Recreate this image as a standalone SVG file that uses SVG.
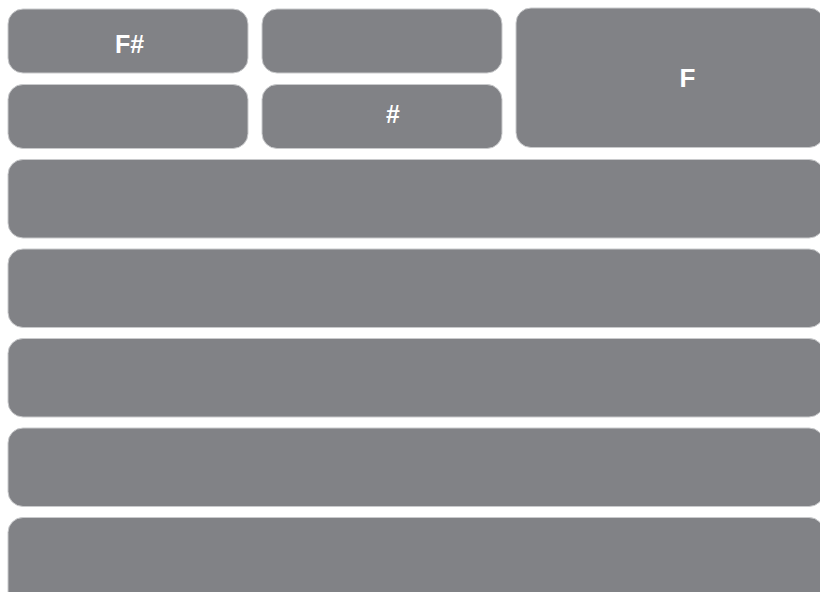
<svg xmlns="http://www.w3.org/2000/svg" width="820" height="592" viewBox="0 0 820 592">
<style>
.b{fill:#818286;stroke:#c9cacc;stroke-width:1}
.t{fill:#ffffff;font-family:"Liberation Sans",Arial,sans-serif;font-weight:bold;font-size:25px;text-anchor:middle;dominant-baseline:central}
</style>
<rect width="820" height="592" fill="#ffffff"/>
<g id="n1"><rect class="b" x="8" y="9" width="240" height="64" rx="15"/><text class="t" x="129.5" y="44">F#</text></g>
<g id="n2"><rect class="b" x="262" y="9" width="240" height="64" rx="15"/></g>
<g id="n3"><rect class="b" x="8" y="84.5" width="240" height="64" rx="15"/></g>
<g id="n4"><rect class="b" x="262" y="84.5" width="240" height="64" rx="15"/><text class="t" x="393" y="114">#</text></g>
<g id="n5"><rect class="b" x="516" y="8" width="308" height="139.5" rx="15"/><text class="t" x="687.5" y="78" style="font-size:26px">F</text></g>
<g id="r1"><rect class="b" x="8" y="159.5" width="816" height="78.5" rx="15"/></g>
<g id="r2"><rect class="b" x="8" y="249" width="816" height="78.5" rx="15"/></g>
<g id="r3"><rect class="b" x="8" y="338.5" width="816" height="78.5" rx="15"/></g>
<g id="r4"><rect class="b" x="8" y="428" width="816" height="78.5" rx="15"/></g>
<g id="r5"><rect class="b" x="8" y="517.5" width="816" height="90" rx="15"/></g>
<g id="connectors"></g>
</svg>
